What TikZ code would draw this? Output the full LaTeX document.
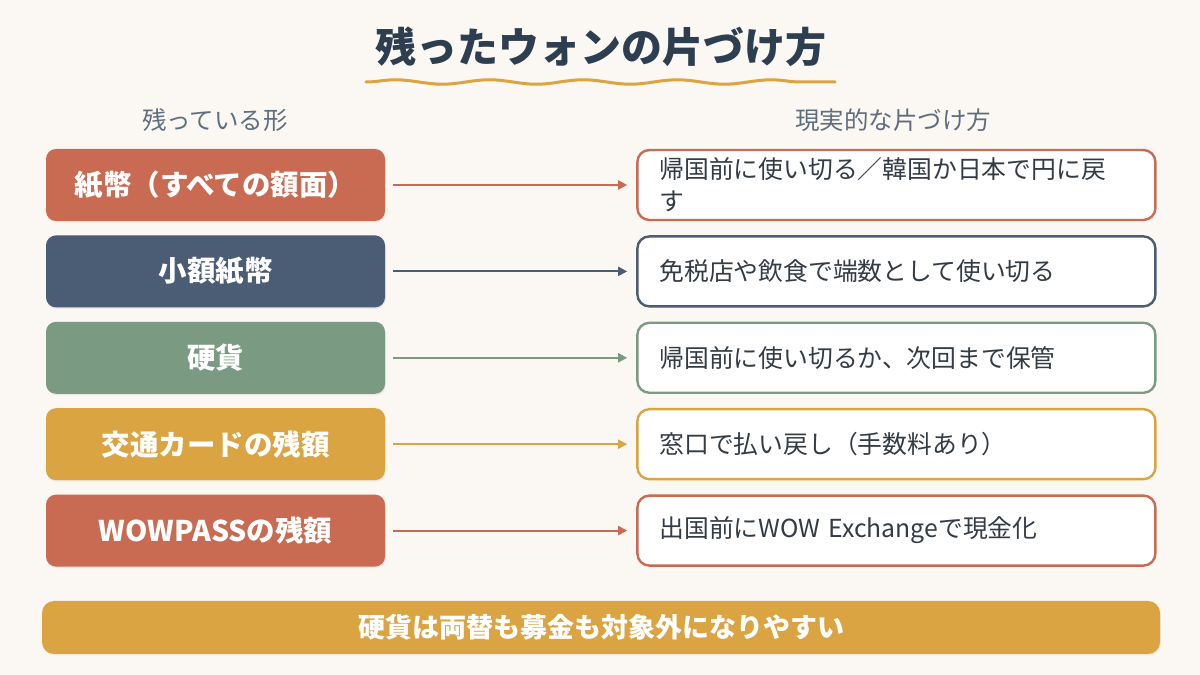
\documentclass[tikz,border=0pt]{standalone}
\usepackage{fontspec}
\setmainfont{Noto Sans CJK JP}
\usepackage{tikz}
\usetikzlibrary{arrows.meta,positioning,shadows,decorations.pathmorphing}
\definecolor{wonbg}{HTML}{FBF7F2}
\definecolor{wonred}{HTML}{C96B52}
\definecolor{wonnavy}{HTML}{4A5D75}
\definecolor{wonsage}{HTML}{7A9A82}
\definecolor{wongold}{HTML}{D9A441}
\definecolor{wontitle}{HTML}{2C3E50}
\definecolor{wongrey}{HTML}{5E6E7E}
\definecolor{wontext}{HTML}{333B44}

\begin{document}
\begin{tikzpicture}[x=1pt,y=1pt,
every node/.style={inner sep=0pt},
form/.style={rounded corners=10pt,minimum width=339pt,minimum height=72pt,align=center,
  text=white,font=\fontsize{28.5}{33}\selectfont\bfseries,
  drop shadow={opacity=0.12,shadow xshift=0.8pt,shadow yshift=-1.5pt}},
way/.style={draw=#1,line width=2.4pt,fill=white,rounded corners=12pt,minimum height=70pt,
  text width=474pt,inner xsep=22pt,align=left,text=wontext,font=\fontsize{24.8}{32}\selectfont},
arr/.style={-{Triangle[length=9pt,width=9pt]},line width=2pt,draw=#1,shorten <=8pt,shorten >=9pt},
head/.style={text=wongrey,font=\fontsize{24.5}{28}\selectfont}
]
\fill[wonbg] (0,0) rectangle (1200,675);
\useasboundingbox (0,0) rectangle (1200,675);

\node[text=wontitle,font=\fontsize{41}{46}\selectfont\bfseries] (title) at (601,628) {残ったウォンの片づけ方};
\coordinate (ulA) at (366,593);
\coordinate (ulB) at (835,593);
\draw[wongold,line width=3pt,line cap=round,decorate,
  decoration={snake,segment length=94pt,amplitude=2.2pt}] (ulA) -- (ulB);

\node[head] (lhead) at (215,555) {残っている形};
\node[head] (rhead) at (893,555) {現実的な片づけ方};

\node[form,fill=wonred]   (notes) at (215.5,490) {紙幣（すべての額面）};
\node[form,fill=wonnavy,below=14pt of notes]  (small) {小額紙幣};
\node[form,fill=wonsage,below=14pt of small]  (coins) {硬貨};
\node[form,fill=wongold,below=14pt of coins]  (card)  {交通カードの残額};
\node[form,fill=wonred,below=14pt of card]    (wow)   {WOWPASSの残額};

\node[way=wonred,right=251pt of notes]  (usenotes) {帰国前に使い切る／韓国か日本で円に戻\\す};
\node[way=wonnavy,right=251pt of small] (usesmall) {免税店や飲食で端数として使い切る};
\node[way=wonsage,right=251pt of coins] (usecoins) {帰国前に使い切るか、次回まで保管};
\node[way=wongold,right=251pt of card]  (usecard)  {窓口で払い戻し（手数料あり）};
\node[way=wonred,right=251pt of wow]    (usewow)   {出国前にWOW Exchangeで現金化};

\draw[arr=wonred]   (notes) -- (usenotes);
\draw[arr=wonnavy]  (small) -- (usesmall);
\draw[arr=wonsage]  (coins) -- (usecoins);
\draw[arr=wongold]  (card)  -- (usecard);
\draw[arr=wonred]   (wow)   -- (usewow);

\node[fill=wongold,rounded corners=12pt,minimum width=1118pt,minimum height=53pt,
  text=white,font=\fontsize{27}{30}\selectfont\bfseries,
  drop shadow={opacity=0.12,shadow xshift=0.8pt,shadow yshift=-1.5pt}] (note) at (601,47.5)
  {硬貨は両替も募金も対象外になりやすい};
\end{tikzpicture}
\end{document}
